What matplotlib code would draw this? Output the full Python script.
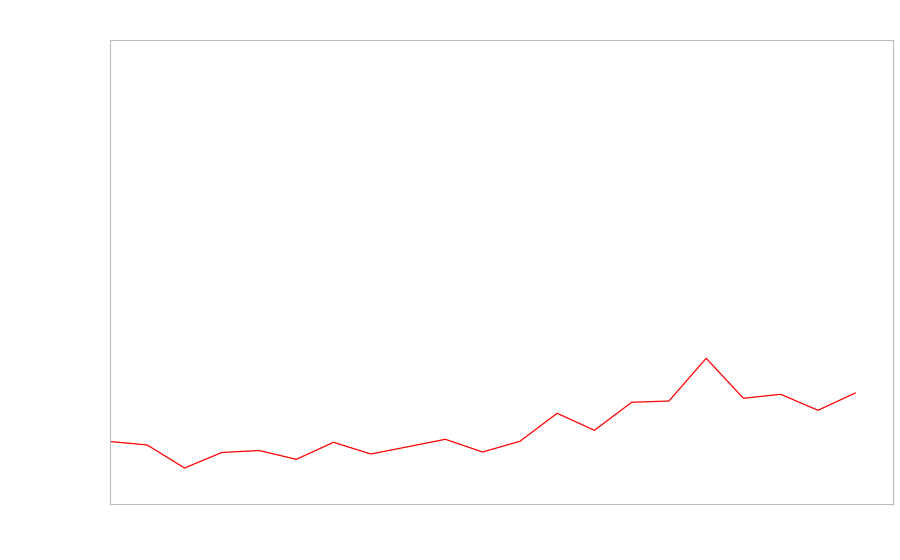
import matplotlib
matplotlib.use("Agg")
import matplotlib.pyplot as plt

x_index = list(range(21))
values = [62.5, 59, 36, 51.5, 53.5, 44.7, 61.7, 50, 57.3, 64.7, 52, 62.7,
          90.7, 73.7, 101.7, 103, 145.7, 105.7, 109.7, 93.7, 111]

fig = plt.figure(figsize=(9, 5.6), dpi=100)
ax = fig.add_axes([110/900, 56/560, 782.5/900, 464/560])
ax.plot(x_index, values, color="#ff0000", linewidth=0.9)
ax.set_xlim(0, 21)
ax.set_ylim(0, 464)
ax.set_xticks([])
ax.set_yticks([])
for s in ax.spines.values():
    s.set_color("#bbbbbb")
    s.set_linewidth(0.8)
fig.savefig("out.png", dpi=100)
